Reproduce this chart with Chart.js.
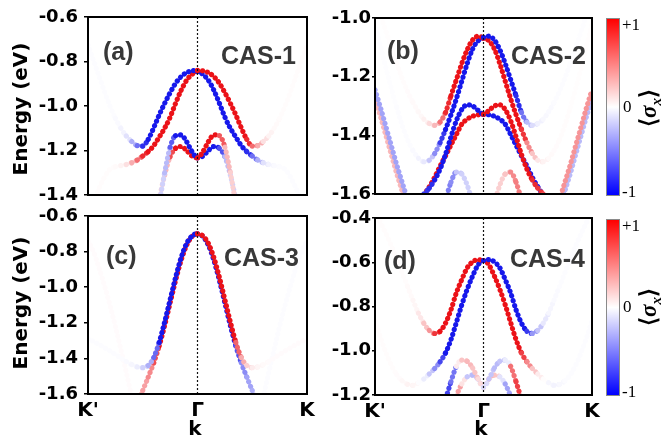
<!DOCTYPE html>
<html>
<head>
<meta charset="utf-8">
<script src="https://cdn.jsdelivr.net/npm/chart.js@4.4.1/dist/chart.umd.min.js"></script>
<style>
  body { margin: 0; background: #fff; }
  #fig { position: relative; width: 664px; height: 445px; overflow: hidden; background: #fff; }
  #fig canvas { position: absolute; }
  .t { position: absolute; white-space: nowrap; line-height: 1; }
  .axis { font: bold 20px "DejaVu Sans", sans-serif; color: #000; }
  .panel { font: bold 25px "Liberation Sans", Arial, sans-serif; color: #383838; }
  .cb { position: absolute; left: 606px; width: 12px; border: 1px solid #8a8a8a;
        background: linear-gradient(to bottom, #ff0000, #ffffff 50%, #0000ff); }
  .cbt { font: 17px "Liberation Serif", serif; color: #000; transform: translateY(-50%); }
  .sig { font: bold 23px "Liberation Serif", serif; color: #000; }
  .sig sub { font-size: 15px; font-style: italic; }
</style>
</head>
<body>
<div id="fig">
  <canvas id="pa" width="325" height="215" style="left:0;top:0"></canvas>
  <canvas id="pb" width="320" height="215" style="left:290px;top:0"></canvas>
  <canvas id="pc" width="325" height="249" style="left:0;top:196px"></canvas>
  <canvas id="pd" width="320" height="249" style="left:290px;top:196px"></canvas>

  <div class="t axis" style="left:20px;top:109px;transform:translate(-50%,-50%) rotate(-90deg)">Energy (eV)</div>
  <div class="t axis" style="left:20px;top:303px;transform:translate(-50%,-50%) rotate(-90deg)">Energy (eV)</div>
  <div class="t axis" style="left:195px;top:428px;transform:translate(-50%,-50%)">k</div>
  <div class="t axis" style="left:481px;top:428px;transform:translate(-50%,-50%)">k</div>

  <div class="t panel" style="left:103px;top:37px">(a)</div>
  <div class="t panel" style="right:368px;top:41px">CAS-1</div>
  <div class="t panel" style="left:387px;top:36px">(b)</div>
  <div class="t panel" style="right:78px;top:41px">CAS-2</div>
  <div class="t panel" style="left:106px;top:241px">(c)</div>
  <div class="t panel" style="right:365px;top:243px">CAS-3</div>
  <div class="t panel" style="left:384px;top:246px">(d)</div>
  <div class="t panel" style="right:79px;top:244px">CAS-4</div>

  <div class="cb" style="top:18px;height:176px"></div>
  <div class="t cbt" style="left:622px;top:25px">+1</div>
  <div class="t cbt" style="left:623px;top:107px">0</div>
  <div class="t cbt" style="left:622px;top:192px">-1</div>
  <div class="t sig" style="left:650px;top:108px;transform:translate(-50%,-50%) rotate(-90deg)">⟨<i>σ</i><sub>x</sub>⟩</div>

  <div class="cb" style="top:219px;height:175px"></div>
  <div class="t cbt" style="left:622px;top:226px">+1</div>
  <div class="t cbt" style="left:623px;top:307px">0</div>
  <div class="t cbt" style="left:622px;top:392px">-1</div>
  <div class="t sig" style="left:650px;top:307px;transform:translate(-50%,-50%) rotate(-90deg)">⟨<i>σ</i><sub>x</sub>⟩</div>
</div>

<script>
const N = null;

// k path K' -> Gamma -> K
const kVals = [
  -1.00, -0.95, -0.90, -0.85, -0.80, -0.75, -0.70, -0.65, -0.60, -0.55,
  -0.50, -0.45, -0.40, -0.35, -0.30, -0.25, -0.20, -0.15, -0.10, -0.05,
  0.00,
  0.05, 0.10, 0.15, 0.20, 0.25, 0.30, 0.35, 0.40, 0.45, 0.50,
  0.55, 0.60, 0.65, 0.70, 0.75, 0.80, 0.85, 0.90, 0.95, 1.00];
const kTicks = [-1, 0, 1];
const kTickLabels = ["K'", 'Γ', 'K'];

// (a) CAS-1
const ticksA = [-0.6, -0.8, -1.0, -1.2, -1.4];
const aUpperE = [
  -0.725, -0.795, -0.865, -0.935, -1.000, -1.055, -1.100, -1.135, -1.160, -1.178,
  -1.180, -1.150, -1.098, -1.040, -0.988, -0.940, -0.898, -0.868, -0.850, -0.842,
  -0.840,
  -0.842, -0.850, -0.868, -0.898, -0.940, -0.988, -1.040, -1.098, -1.150, -1.180,
  -1.178, -1.160, -1.135, -1.100, -1.055, -1.000, -0.935, -0.865, -0.795, -0.725];
const aUpperS = [
  -0.012, -0.012, -0.012, -0.012, -0.012, -0.02, -0.05, -0.13, -0.35, -0.62,
  -0.90, -1, -1, -1, -1, -1, -1, -1, -1, -1,
  0,
  1, 1, 1, 1, 1, 1, 1, 1, 1, 0.90,
  0.62, 0.35, 0.13, 0.05, 0.02, 0.012, 0.012, 0.012, 0.012, 0.012];
const aLowerE = [
  -1.490, -1.430, -1.370, -1.320, -1.285, -1.273, -1.268, -1.263, -1.255, -1.243,
  -1.225, -1.205, -1.178, -1.140, -1.100, -1.050, -0.988, -0.930, -0.885, -0.858,
  -0.845,
  -0.858, -0.885, -0.930, -0.988, -1.050, -1.100, -1.140, -1.178, -1.205, -1.225,
  -1.243, -1.255, -1.263, -1.268, -1.273, -1.285, -1.320, -1.370, -1.430, -1.490];
const aLowerS = [
  0.012, 0.012, 0.012, 0.012, 0.012, 0.02, 0.05, 0.13, 0.35, 0.62,
  0.90, 1, 1, 1, 1, 1, 1, 1, 1, 1,
  0,
  -1, -1, -1, -1, -1, -1, -1, -1, -1, -0.90,
  -0.62, -0.35, -0.13, -0.05, -0.02, -0.012, -0.012, -0.012, -0.012, -0.012];
const aInner1E = [
  N, N, N, N, N, N, N, N, N, N,
  N, N, -1.580, -1.440, -1.300, -1.185, -1.133, -1.130, -1.160, -1.205,
  -1.233,
  -1.205, -1.160, -1.130, -1.133, -1.185, -1.300, -1.440, -1.580, N, N,
  N, N, N, N, N, N, N, N, N, N];
const aInner1S = [
  0, 0, 0, 0, 0, 0, 0, 0, 0, 0,
  0, 0, -0.15, -0.20, -0.30, -0.70, -1, -1, -1, -1,
  0,
  1, 1, 1, 1, 0.70, 0.30, 0.20, 0.15, 0, 0,
  0, 0, 0, 0, 0, 0, 0, 0, 0, 0];
const aInner2E = [
  N, N, N, N, N, N, N, N, N, N,
  N, N, -1.540, -1.420, -1.310, -1.228, -1.190, -1.182, -1.200, -1.225,
  -1.233,
  -1.225, -1.200, -1.182, -1.190, -1.228, -1.310, -1.420, -1.540, N, N,
  N, N, N, N, N, N, N, N, N, N];
const aInner2S = [
  0, 0, 0, 0, 0, 0, 0, 0, 0, 0,
  0, 0, 0.15, 0.20, 0.30, 0.75, 1, 1, 1, 1,
  0,
  -1, -1, -1, -1, -0.75, -0.30, -0.20, -0.15, 0, 0,
  0, 0, 0, 0, 0, 0, 0, 0, 0, 0];

// (b) CAS-2
const ticksB = [-1.0, -1.2, -1.4, -1.6];
const bUpperE = [
  -0.935, -0.990, -1.045, -1.100, -1.155, -1.205, -1.250, -1.288, -1.320, -1.345,
  -1.360, -1.366, -1.355, -1.322, -1.265, -1.210, -1.155, -1.108, -1.075, -1.062,
  -1.066,
  -1.062, -1.075, -1.108, -1.155, -1.210, -1.265, -1.322, -1.355, -1.366, -1.360,
  -1.345, -1.320, -1.288, -1.250, -1.205, -1.155, -1.100, -1.045, -0.990, -0.935];
const bUpperS = [
  0.01, 0.01, 0.01, 0.01, 0.012, 0.012, 0.015, 0.02, 0.03, 0.06,
  0.15, 0.30, 0.60, 0.90, 1, 1, 1, 1, 1, 1,
  0,
  -1, -1, -1, -1, -1, -1, -0.90, -0.60, -0.30, -0.15,
  -0.06, -0.03, -0.02, -0.015, -0.012, -0.012, -0.01, -0.01, -0.01, -0.01];
const bLowerE = [
  -1.020, -1.095, -1.170, -1.240, -1.305, -1.365, -1.415, -1.452, -1.478, -1.490,
  -1.485, -1.462, -1.425, -1.380, -1.330, -1.275, -1.215, -1.155, -1.105, -1.078,
  -1.069,
  -1.078, -1.105, -1.155, -1.215, -1.275, -1.330, -1.380, -1.425, -1.462, -1.485,
  -1.490, -1.478, -1.452, -1.415, -1.365, -1.305, -1.240, -1.170, -1.095, -1.020];
const bLowerS = [
  -0.01, -0.01, -0.01, -0.01, -0.012, -0.012, -0.015, -0.02, -0.05, -0.10,
  -0.25, -0.50, -0.85, -1, -1, -1, -1, -1, -1, -1,
  0,
  1, 1, 1, 1, 1, 1, 1, 0.85, 0.50, 0.25,
  0.10, 0.05, 0.02, 0.015, 0.012, 0.012, 0.01, 0.01, 0.01, 0.01];
const bMid1E = [
  N, N, N, N, N, N, N, -1.640, -1.620, -1.600,
  -1.580, -1.552, -1.515, -1.465, -1.405, -1.350, -1.312, -1.296, -1.300, -1.315,
  -1.328,
  -1.315, -1.300, -1.296, -1.312, -1.350, -1.405, -1.465, -1.515, -1.552, -1.580,
  -1.600, -1.620, -1.640, N, N, N, N, N, N, N];
const bMid1S = [
  0, 0, 0, 0, 0, 0, 0, -0.70, -0.75, -0.85,
  -0.90, -1, -1, -1, -1, -1, -1, -1, -1, -1,
  0,
  1, 1, 1, 1, 1, 1, 1, 1, 1, 0.90,
  0.85, 0.75, 0.70, 0, 0, 0, 0, 0, 0, 0];
const bMid2E = [
  N, N, N, N, N, N, N, -1.660, -1.630, -1.603,
  -1.576, -1.543, -1.505, -1.470, -1.433, -1.397, -1.362, -1.345, -1.335, -1.330,
  -1.328,
  -1.330, -1.335, -1.345, -1.362, -1.397, -1.433, -1.470, -1.505, -1.543, -1.576,
  -1.603, -1.630, -1.660, N, N, N, N, N, N, N];
const bMid2S = [
  0, 0, 0, 0, 0, 0, 0, 0.70, 0.80, 0.90,
  1, 1, 1, 1, 1, 1, 1, 1, 1, 1,
  0,
  -1, -1, -1, -1, -1, -1, -1, -1, -1, -1,
  -0.90, -0.80, -0.70, 0, 0, 0, 0, 0, 0, 0];
const bEdge1E = [
  -1.245, -1.305, -1.370, -1.435, -1.500, -1.560, -1.620, N, N, N,
  N, N, N, N, N, N, N, N, N, N,
  N,
  N, N, N, N, N, N, N, N, N, N,
  N, N, N, -1.620, -1.560, -1.500, -1.435, -1.370, -1.305, -1.245];
const bEdge1S = [
  -0.40, -0.40, -0.40, -0.40, -0.40, -0.40, -0.40, 0, 0, 0,
  0, 0, 0, 0, 0, 0, 0, 0, 0, 0,
  0,
  0, 0, 0, 0, 0, 0, 0, 0, 0, 0,
  0, 0, 0, 0.45, 0.45, 0.45, 0.45, 0.45, 0.45, 0.45];
const bEdge2E = [
  -1.275, -1.335, -1.400, -1.465, -1.530, -1.590, -1.650, N, N, N,
  N, N, N, N, N, N, N, N, N, N,
  N,
  N, N, N, N, N, N, N, N, N, N,
  N, N, N, -1.650, -1.590, -1.530, -1.465, -1.400, -1.335, -1.275];
const bEdge2S = [
  0.30, 0.30, 0.30, 0.30, 0.30, 0.30, 0.30, 0, 0, 0,
  0, 0, 0, 0, 0, 0, 0, 0, 0, 0,
  0,
  0, 0, 0, 0, 0, 0, 0, 0, 0, 0,
  0, 0, 0, -0.30, -0.30, -0.30, -0.30, -0.30, -0.30, -0.30];
const bSmallE = [
  N, N, N, N, N, N, N, N, N, N,
  N, N, N, -1.620, -1.560, -1.525, -1.532, -1.570, -1.630, N,
  N,
  N, -1.630, -1.570, -1.532, -1.525, -1.560, -1.620, N, N, N,
  N, N, N, N, N, N, N, N, N, N];
const bSmallS = [
  0, 0, 0, 0, 0, 0, 0, 0, 0, 0,
  0, 0, 0, -0.55, -0.50, -0.25, -0.20, -0.20, -0.15, 0,
  0,
  0, 0.15, 0.20, 0.20, 0.25, 0.50, 0.55, 0, 0, 0,
  0, 0, 0, 0, 0, 0, 0, 0, 0, 0];

// (c) CAS-3
const ticksC = [-0.6, -0.8, -1.0, -1.2, -1.4, -1.6];
const cUpperE = [
  -1.288, -1.305, -1.322, -1.340, -1.358, -1.378, -1.398, -1.418, -1.435, -1.448,
  -1.452, -1.440, -1.395, -1.310, -1.195, -1.070, -0.945, -0.835, -0.755, -0.712,
  -0.700,
  -0.712, -0.755, -0.835, -0.945, -1.070, -1.195, -1.310, -1.395, -1.440, -1.452,
  -1.448, -1.435, -1.418, -1.398, -1.378, -1.358, -1.340, -1.322, -1.305, -1.288];
const cUpperS = [
  -0.015, -0.015, -0.015, -0.015, -0.015, -0.015, -0.015, -0.02, -0.04, -0.08,
  -0.20, -0.35, -0.65, -1, -1, -1, -1, -1, -1, -1,
  0,
  1, 1, 1, 1, 1, 1, 1, 0.65, 0.35, 0.20,
  0.08, 0.04, 0.02, 0.015, 0.015, 0.015, 0.015, 0.015, 0.015, 0.015];
const cLowerE = [
  N, N, N, N, N, N, N, N, -1.730, -1.655,
  -1.580, -1.505, -1.425, -1.330, -1.215, -1.088, -0.962, -0.850, -0.765, -0.716,
  -0.700,
  -0.716, -0.765, -0.850, -0.962, -1.088, -1.215, -1.330, -1.425, -1.505, -1.580,
  -1.655, -1.730, N, N, N, N, N, N, N, N];
const cLowerS = [
  0, 0, 0, 0, 0, 0, 0, 0, 0.30, 0.35,
  0.40, 0.50, 0.75, 1, 1, 1, 1, 1, 1, 1,
  0,
  -1, -1, -1, -1, -1, -1, -1, -0.75, -0.50, -0.40,
  -0.35, -0.30, 0, 0, 0, 0, 0, 0, 0, 0];
const cEdgeE = [
  -0.740, -0.800, -0.890, -0.990, -1.100, -1.220, -1.350, -1.480, -1.620, N,
  N, N, N, N, N, N, N, N, N, N,
  N,
  N, N, N, N, N, N, N, N, N, N,
  N, -1.620, -1.480, -1.350, -1.220, -1.100, -0.990, -0.890, -0.800, -0.740];
const cEdgeS = [
  0.015, 0.015, 0.015, 0.015, 0.015, 0.015, 0.015, 0.015, 0.015, 0,
  0, 0, 0, 0, 0, 0, 0, 0, 0, 0,
  0,
  0, 0, 0, 0, 0, 0, 0, 0, 0, 0,
  0, -0.015, -0.015, -0.015, -0.015, -0.015, -0.015, -0.015, -0.015, -0.015];

// (d) CAS-4
const ticksD = [-0.4, -0.6, -0.8, -1.0, -1.2];
const dUpperE = [
  -0.375, -0.420, -0.470, -0.525, -0.585, -0.648, -0.710, -0.772, -0.830, -0.876,
  -0.908, -0.922, -0.912, -0.875, -0.815, -0.738, -0.678, -0.625, -0.598, -0.588,
  -0.592,
  -0.588, -0.598, -0.625, -0.678, -0.738, -0.815, -0.875, -0.912, -0.922, -0.908,
  -0.876, -0.830, -0.772, -0.710, -0.648, -0.585, -0.525, -0.470, -0.420, -0.375];
const dUpperS = [
  0.012, 0.012, 0.012, 0.012, 0.012, 0.012, 0.02, 0.04, 0.10, 0.25,
  0.45, 0.85, 1, 1, 1, 1, 1, 1, 1, 1,
  0,
  -1, -1, -1, -1, -1, -1, -1, -1, -0.85, -0.45,
  -0.25, -0.10, -0.04, -0.02, -0.012, -0.012, -0.012, -0.012, -0.012, -0.012];
const dLowerE = [
  -0.865, -0.940, -1.008, -1.065, -1.108, -1.136, -1.152, -1.156, -1.145, -1.128,
  -1.105, -1.080, -1.050, -1.010, -0.950, -0.872, -0.792, -0.722, -0.662, -0.612,
  -0.592,
  -0.612, -0.662, -0.722, -0.792, -0.872, -0.950, -1.010, -1.050, -1.080, -1.105,
  -1.128, -1.145, -1.156, -1.152, -1.136, -1.108, -1.065, -1.008, -0.940, -0.865];
const dLowerS = [
  0.012, 0.012, 0.012, 0.012, 0.015, 0.03, 0.05, 0.04, -0.01, -0.08,
  -0.25, -0.50, -0.80, -1, -1, -1, -1, -1, -1, -1,
  0,
  1, 1, 1, 1, 1, 1, 1, 0.80, 0.50, 0.25,
  0.08, 0.01, -0.04, -0.05, -0.03, -0.015, -0.012, -0.012, -0.012, -0.012];
const dInner1E = [
  N, N, N, N, N, N, N, N, N, N,
  N, N, -1.300, -1.220, -1.140, -1.070, -1.042, -1.048, -1.078, -1.128,
  -1.165,
  -1.128, -1.078, -1.048, -1.042, -1.070, -1.140, -1.220, -1.300, N, N,
  N, N, N, N, N, N, N, N, N, N];
const dInner1S = [
  0, 0, 0, 0, 0, 0, 0, 0, 0, 0,
  0, 0, -0.80, -0.80, -0.60, 0.08, 0.25, 0.30, 0.25, 0.15,
  0,
  -0.15, -0.25, -0.30, -0.25, -0.08, 0.60, 0.80, 0.80, 0, 0,
  0, 0, 0, 0, 0, 0, 0, 0, 0, 0];
const dInner2E = [
  N, N, N, N, N, N, N, N, N, N,
  N, N, N, N, -1.280, -1.205, -1.150, -1.118, -1.110, -1.128,
  -1.165,
  -1.128, -1.110, -1.118, -1.150, -1.205, -1.280, N, N, N, N,
  N, N, N, N, N, N, N, N, N, N];
const dInner2S = [
  0, 0, 0, 0, 0, 0, 0, 0, 0, 0,
  0, 0, 0, 0, 0.50, 0.40, 0.12, -0.25, -0.30, -0.25,
  0,
  0.25, 0.30, 0.25, -0.12, -0.40, -0.50, 0, 0, 0, 0,
  0, 0, 0, 0, 0, 0, 0, 0, 0, 0];

// bwr colormap, -1 blue .. 0 white .. +1 red
function sigColor(s) {
  const a = Math.min(1, Math.abs(s));
  const c = s >= 0 ? [235, 18, 24] : [22, 24, 235];
  return 'rgb(' + c.map(v => Math.round(255 - (255 - v) * a)).join(',') + ')';
}

function band(E, S) {
  return {
    data: kVals.map((k, i) => ({ x: k, y: E[i] })),
    borderColor: '#fff',
    borderWidth: 5.2,
    borderDash: [0.01, 5],
    borderCapStyle: 'round',
    pointRadius: 0,
    cubicInterpolationMode: 'monotone',
    clip: 0,
    segment: {
      borderColor: c => {
        // colour of the segment = spin of its outer end point
        const i = kVals[c.p0DataIndex] + kVals[c.p1DataIndex] < 0 ? c.p0DataIndex : c.p1DataIndex;
        return sigColor(S[i]);
      }
    }
  };
}

const framePlugin = {
  id: 'frame',
  afterDatasetsDraw(chart) {
    const { ctx, chartArea: a } = chart;
    const gx = chart.scales.x.getPixelForValue(0);
    ctx.save();
    ctx.strokeStyle = '#111';
    ctx.lineWidth = 1.2;
    ctx.setLineDash([2, 2]);
    ctx.beginPath();
    ctx.moveTo(gx, a.top);
    ctx.lineTo(gx, a.bottom);
    ctx.stroke();
    ctx.setLineDash([]);
    ctx.strokeStyle = '#000';
    ctx.lineWidth = 2;
    ctx.strokeRect(a.left, a.top, a.right - a.left, a.bottom - a.top);
    ctx.restore();
  }
};

const boldFont = size => ({ family: 'DejaVu Sans', weight: 'bold', size });

function xAxis(showK) {
  if (!showK) return { type: 'linear', min: -1, max: 1, display: false };
  return {
    type: 'linear', min: -1, max: 1,
    afterFit: s => { s.height = 30; },
    afterBuildTicks: s => { s.ticks = kTicks.map(v => ({ value: v })); },
    ticks: { callback: (v, i) => kTickLabels[i], color: '#000', font: boldFont(20),
             padding: 5, maxRotation: 0, autoSkip: false },
    grid: { display: false, drawTicks: false },
    border: { display: false }
  };
}

function yAxis(ticks, width, tickLen, pad) {
  return {
    type: 'linear', min: Math.min(...ticks), max: Math.max(...ticks),
    afterFit: s => { s.width = width; },
    afterBuildTicks: s => { s.ticks = ticks.map(v => ({ value: v })); },
    ticks: { callback: v => v.toFixed(1), color: '#000', font: boldFont(18), padding: pad, autoSkip: false },
    grid: { drawOnChartArea: false, tickLength: tickLen, color: '#000', lineWidth: 1.5 },
    border: { display: false }
  };
}

function makePanel(id, bands, x, y, padding) {
  new Chart(document.getElementById(id), {
    type: 'line',
    data: { datasets: bands.map(b => band(b[0], b[1])) },
    options: {
      responsive: false,
      animation: false,
      events: [],
      layout: { padding },
      plugins: { legend: { display: false }, tooltip: { enabled: false } },
      scales: { x, y }
    },
    plugins: [framePlugin]
  });
}

makePanel('pa',
  [[aUpperE, aUpperS], [aLowerE, aLowerS], [aInner1E, aInner1S], [aInner2E, aInner2S]],
  xAxis(false), yAxis(ticksA, 80, 4, 6), { left: 8, top: 17, right: 18, bottom: 20 });

makePanel('pb',
  [[bUpperE, bUpperS], [bLowerE, bLowerS], [bMid1E, bMid1S], [bMid2E, bMid2S],
   [bSmallE, bSmallS], [bEdge1E, bEdge1S], [bEdge2E, bEdge2S]],
  xAxis(false), yAxis(ticksB, 77, 3, 1), { left: 8, top: 18, right: 18, bottom: 21 });

makePanel('pc',
  [[cUpperE, cUpperS], [cLowerE, cLowerS], [cEdgeE, cEdgeS]],
  xAxis(true), yAxis(ticksC, 80, 4, 6), { left: 8, top: 20, right: 18, bottom: 21 });

makePanel('pd',
  [[dUpperE, dUpperS], [dLowerE, dLowerS], [dInner1E, dInner1S], [dInner2E, dInner2S]],
  xAxis(true), yAxis(ticksD, 77, 3, 1), { left: 8, top: 22, right: 18, bottom: 20 });
</script>
</body>
</html>
